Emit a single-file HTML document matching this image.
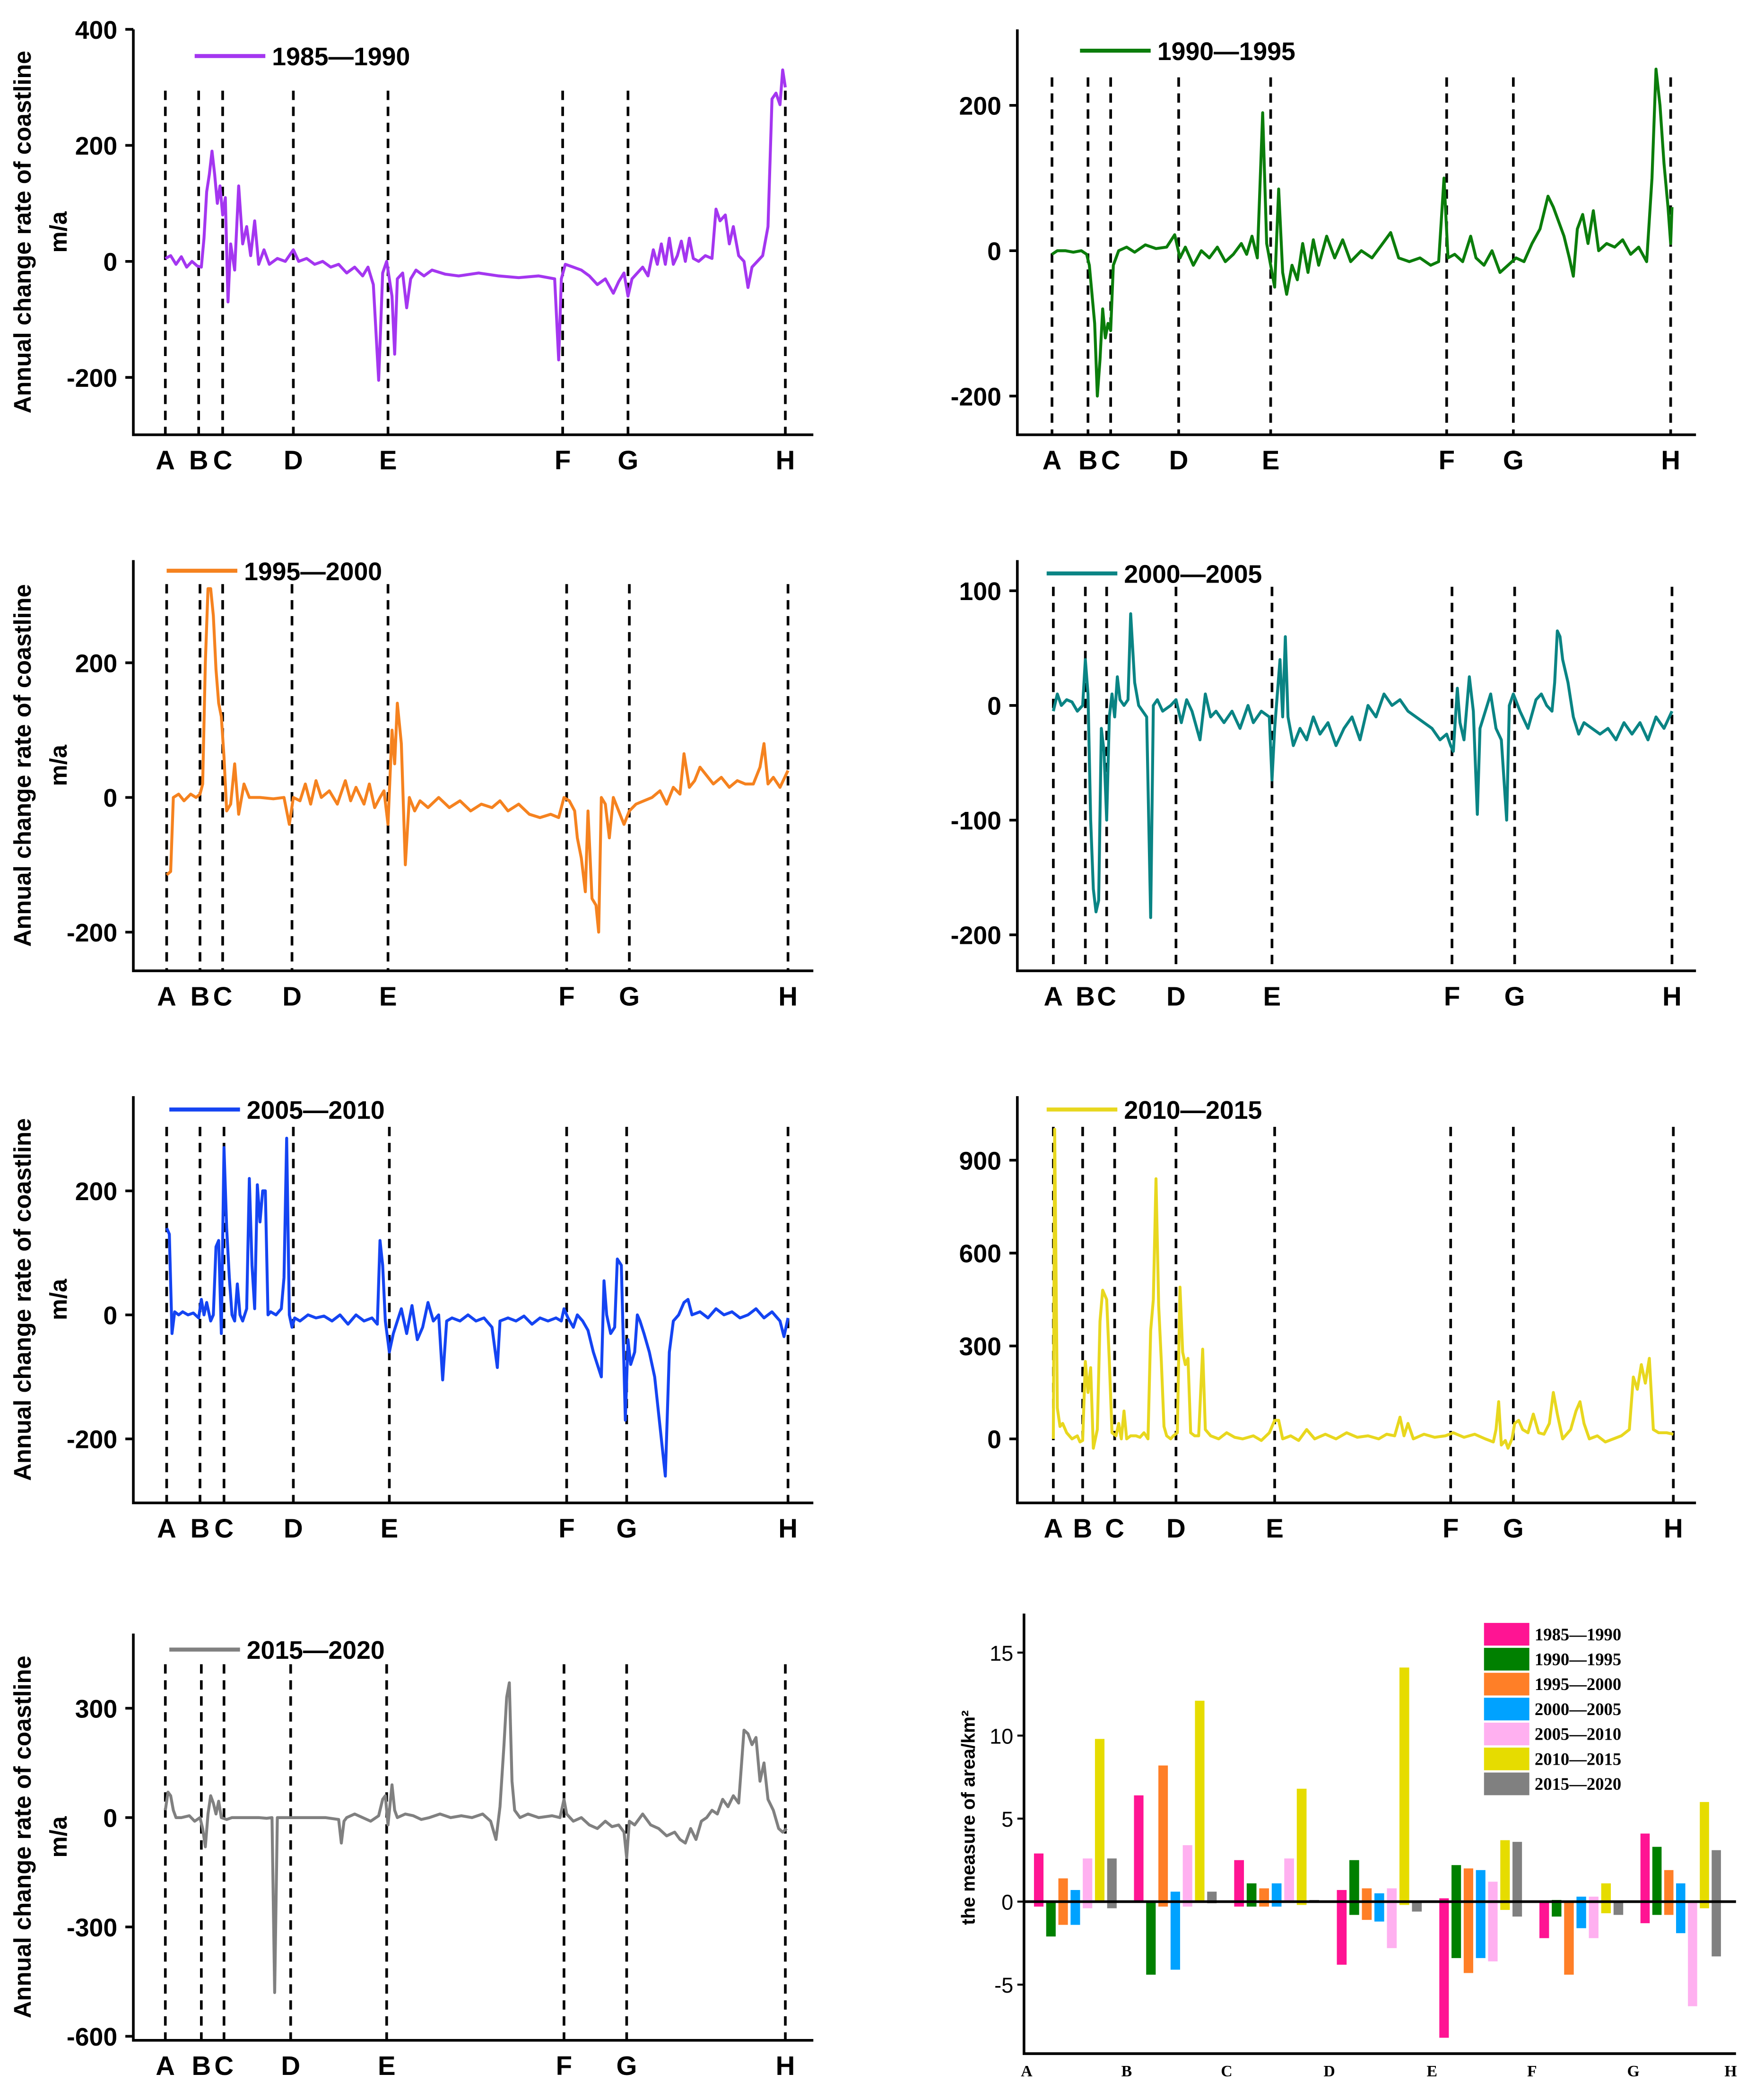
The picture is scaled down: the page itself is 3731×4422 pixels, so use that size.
<!DOCTYPE html>
<html>
<head>
<meta charset="utf-8">
<style>
html,body{margin:0;padding:0;background:#fff;}
svg{display:block;font-family:"Liberation Sans",sans-serif;}
</style>
</head>
<body>
<svg id="fig" xmlns="http://www.w3.org/2000/svg" width="3731" height="4422" viewBox="0 0 1323 1568">
<rect x="0" y="0" width="1323" height="1568" fill="#fff"/>
</svg>
<script>
// ---------- data ----------
const letters = ["A","B","C","D","E","F","G","H"];
const period1 = "1985—1990", period2 = "1990—1995", period3 = "1995—2000", period4 = "2000—2005";
const period5 = "2005—2010", period6 = "2010—2015", period7 = "2015—2020";
const series1985 = [[0,5],[4,10],[8,-5],[12,8],[16,-10],[20,0],[24,-8],[27,-10],[29,40],[31,120],[33,150],[35,190],[37,150],[39,100],[41,130],[43,80],[45,110],[47,-70],[49,30],[52,-15],[55,130],[58,30],[61,60],[64,10],[67,70],[70,-5],[74,20],[78,-5],[84,5],[90,0],[96,20],[100,0],[106,5],[112,-5],[118,0],[124,-10],[130,-5],[136,-20],[142,-10],[148,-25],[152,-10],[156,-40],[160,-205],[163,-20],[166,0],[168,-30],[170,-60],[172,-160],[174,-30],[178,-20],[181,-80],[184,-30],[188,-15],[194,-25],[200,-15],[210,-22],[220,-25],[235,-20],[250,-25],[265,-28],[280,-25],[292,-30],[295,-170],[297,-30],[300,-5],[306,-10],[312,-15],[318,-25],[324,-40],[330,-30],[336,-55],[340,-35],[344,-20],[347,-60],[350,-30],[354,-20],[358,-10],[362,-25],[366,20],[369,-5],[372,30],[375,-5],[378,40],[381,-5],[384,10],[387,35],[390,0],[393,40],[396,5],[400,0],[405,10],[410,5],[413,90],[416,70],[420,80],[423,30],[426,60],[430,10],[434,0],[437,-45],[440,-10],[444,0],[448,10],[452,60],[455,280],[458,290],[461,270],[463,330],[465,300]];
const series1990 = [[0,-5],[4,0],[10,0],[16,-2],[22,0],[26,-5],[28,-20],[30,-60],[32,-100],[34,-200],[36,-150],[38,-80],[40,-120],[42,-100],[44,-110],[46,-20],[50,0],[56,5],[62,-2],[70,8],[78,3],[86,5],[92,22],[96,-10],[100,5],[106,-20],[112,0],[118,-10],[124,5],[130,-15],[136,-5],[142,10],[146,-5],[150,20],[154,-10],[158,190],[161,10],[164,-20],[167,-50],[170,85],[173,-30],[176,-60],[180,-20],[184,-40],[188,10],[192,-30],[196,15],[200,-20],[206,20],[212,-10],[218,15],[224,-15],[232,0],[240,-10],[248,10],[254,25],[260,-10],[268,-15],[276,-10],[284,-20],[290,-15],[294,100],[297,-10],[302,-5],[308,-15],[314,20],[318,-10],[324,-20],[330,0],[336,-30],[342,-20],[348,-10],[354,-15],[360,10],[366,30],[372,75],[376,60],[380,40],[384,20],[388,-10],[391,-35],[394,30],[398,50],[402,10],[406,55],[410,0],[416,10],[422,5],[428,15],[434,-5],[440,5],[446,-15],[450,100],[453,250],[456,200],[459,120],[462,60],[464,10],[465,60]];
const series1995 = [[0,-115],[3,-110],[5,0],[9,5],[13,-5],[18,5],[22,0],[25,5],[27,20],[29,200],[31,310],[33,310],[35,270],[37,190],[39,140],[41,120],[43,60],[45,-20],[48,-10],[51,50],[54,-25],[58,20],[62,0],[70,0],[80,-2],[88,0],[92,-40],[95,0],[100,-5],[104,20],[108,-10],[112,25],[116,0],[122,10],[128,-10],[134,25],[138,-5],[142,15],[148,-10],[152,20],[156,-15],[160,0],[163,10],[166,-40],[169,100],[171,50],[173,140],[176,80],[179,-100],[182,0],[186,-20],[190,-5],[196,-15],[204,0],[212,-15],[220,-5],[228,-20],[236,-10],[244,-15],[250,-5],[256,-20],[264,-10],[272,-25],[280,-30],[288,-25],[294,-30],[298,0],[302,-5],[306,-20],[308,-60],[311,-90],[314,-140],[316,-20],[319,-150],[322,-160],[324,-200],[326,0],[329,-10],[332,-60],[335,0],[339,-20],[343,-40],[347,-20],[352,-10],[358,-5],[364,0],[370,10],[375,-10],[380,15],[385,5],[388,65],[392,15],[396,25],[400,45],[404,35],[410,20],[416,30],[422,15],[428,25],[434,20],[440,20],[445,45],[448,80],[451,20],[455,30],[460,15],[466,40]];
const series2000 = [[0,-5],[3,10],[6,0],[10,5],[14,3],[18,-5],[22,0],[24,40],[26,10],[28,-100],[30,-160],[32,-180],[34,-170],[36,-20],[38,-40],[40,-100],[42,-10],[44,10],[46,-10],[48,25],[50,5],[53,0],[56,5],[58,80],[61,20],[64,0],[67,-5],[70,-10],[73,-185],[75,0],[78,5],[82,-5],[88,0],[92,5],[96,-15],[100,5],[104,-5],[110,-30],[114,10],[118,-10],[122,-5],[128,-15],[134,-5],[140,-20],[146,0],[150,-15],[156,-5],[162,-10],[164,-65],[166,-20],[170,40],[172,-10],[174,60],[176,-10],[180,-35],[185,-20],[190,-30],[195,-10],[200,-25],[206,-15],[212,-35],[218,-20],[224,-10],[230,-30],[236,0],[242,-10],[248,10],[254,0],[260,5],[266,-5],[272,-10],[278,-15],[284,-20],[290,-30],[295,-25],[298,-35],[300,-40],[303,15],[305,-15],[308,-30],[312,25],[315,-5],[318,-95],[320,-20],[324,-5],[328,10],[332,-20],[336,-30],[340,-100],[342,0],[345,10],[350,-5],[356,-20],[362,5],[366,10],[370,0],[374,-5],[376,20],[378,65],[380,60],[382,40],[386,20],[390,-10],[394,-25],[398,-15],[404,-20],[410,-25],[416,-20],[422,-30],[428,-15],[434,-25],[440,-15],[446,-30],[452,-10],[458,-20],[464,-5]];
const series2005 = [[0,140],[2,130],[4,-30],[6,5],[9,0],[12,5],[16,0],[20,3],[24,-5],[26,25],[28,0],[30,20],[33,-10],[35,0],[37,110],[39,120],[41,-30],[43,270],[45,140],[47,60],[49,0],[51,-10],[53,50],[55,0],[57,-10],[60,10],[62,220],[64,80],[66,10],[68,210],[70,150],[72,200],[74,200],[76,0],[78,5],[82,0],[86,10],[88,60],[90,285],[92,0],[94,-20],[96,-5],[100,-10],[106,0],[112,-5],[118,-2],[124,-10],[130,0],[136,-15],[142,0],[148,-10],[154,-5],[158,-15],[160,120],[162,80],[164,-10],[167,-60],[170,-30],[173,-10],[176,10],[180,-30],[184,15],[188,-40],[192,-20],[196,20],[200,-10],[204,0],[207,-105],[210,-10],[214,-5],[220,-10],[226,0],[232,-10],[238,-5],[244,-20],[248,-85],[250,-10],[256,-5],[262,-10],[268,-2],[274,-15],[280,-5],[286,-10],[292,-5],[296,-10],[298,10],[301,-5],[305,-20],[308,0],[312,-10],[316,-25],[320,-60],[323,-80],[326,-100],[328,55],[330,0],[333,-30],[336,-20],[338,90],[341,80],[344,-170],[346,-40],[348,-80],[351,-60],[353,0],[355,-10],[358,-30],[362,-60],[366,-100],[370,-180],[374,-260],[377,-60],[380,-10],[384,0],[388,20],[391,25],[394,0],[400,5],[406,-5],[412,10],[418,0],[424,5],[430,-5],[436,0],[442,10],[448,-5],[454,5],[460,-10],[463,-35],[466,-5]];
const series2010 = [[0,0],[1,1000],[3,100],[5,40],[7,50],[10,20],[14,0],[18,10],[20,-10],[22,-5],[24,250],[26,150],[28,230],[30,-30],[33,30],[35,380],[37,480],[40,450],[42,250],[44,20],[47,10],[49,50],[51,0],[53,90],[55,0],[58,10],[62,10],[65,5],[68,20],[71,0],[73,350],[75,450],[77,840],[79,430],[81,250],[83,40],[85,10],[88,0],[90,10],[93,20],[95,490],[97,280],[99,240],[101,260],[103,20],[106,10],[109,10],[112,290],[114,30],[118,10],[124,0],[130,20],[136,5],[142,0],[150,10],[156,-5],[162,20],[166,60],[169,60],[172,0],[178,10],[184,-5],[190,30],[196,0],[204,15],[212,0],[220,20],[228,5],[236,10],[244,0],[250,15],[256,10],[260,70],[263,10],[266,50],[270,0],[278,15],[286,5],[294,10],[300,20],[308,5],[316,15],[324,0],[330,-10],[332,30],[334,120],[336,-20],[339,-5],[341,-30],[344,0],[346,50],[349,60],[352,30],[356,20],[360,80],[364,20],[368,15],[372,50],[375,150],[378,80],[382,0],[388,30],[392,90],[395,120],[398,50],[402,0],[408,10],[414,-10],[420,0],[426,10],[432,30],[435,200],[438,160],[441,240],[444,180],[447,260],[450,30],[454,20],[460,20],[465,15]];
const series2015 = [[0,20],[2,70],[4,60],[6,20],[8,0],[12,0],[18,5],[22,-10],[26,0],[28,-30],[30,-80],[32,10],[34,60],[36,40],[38,10],[40,45],[42,0],[46,-5],[50,0],[56,0],[62,0],[70,0],[76,-2],[80,0],[82,-480],[84,0],[88,0],[94,0],[100,0],[110,0],[120,0],[130,-5],[132,-70],[134,-10],[136,0],[142,10],[148,0],[154,-10],[160,5],[163,50],[165,60],[167,-20],[170,90],[172,20],[174,0],[180,10],[186,5],[192,-5],[198,0],[206,10],[214,0],[222,5],[230,0],[238,10],[244,-10],[248,-60],[251,30],[254,200],[256,330],[258,370],[260,100],[262,20],[266,0],[272,10],[280,0],[290,5],[296,0],[299,50],[301,10],[306,-10],[312,0],[318,-20],[324,-30],[330,-10],[335,-25],[340,-20],[344,-40],[346,-110],[348,-10],[352,-20],[358,10],[364,-20],[370,-30],[376,-50],[382,-40],[386,-60],[390,-70],[394,-30],[398,-60],[402,-10],[406,0],[410,20],[414,10],[418,50],[422,30],[426,60],[430,40],[434,240],[437,230],[440,200],[443,220],[446,100],[449,150],[452,50],[456,20],[460,-30],[463,-40],[466,-30]];
const ticks1 = [400,200,0,-200], ticks2 = [200,0,-200], ticks3 = [200,0,-200], ticks4 = [100,0,-100,-200];
const ticks5 = [200,0,-200], ticks6 = [900,600,300,0], ticks7 = [300,0,-300,-600];
// bar chart data (area, km²): positive (accretion) and negative (erosion) per segment A-B ... G-H
const barPeriods = ["1985—1990","1990—1995","1995—2000","2000—2005","2005—2010","2010—2015","2015—2020"];
const pos1985 = [2.9,6.4,2.5,0.7,0.2,0,4.1], neg1985 = [-0.3,0,-0.3,-3.8,-8.2,-2.2,-1.3];
const pos1990 = [0,0,1.1,2.5,2.2,0.1,3.3], neg1990 = [-2.1,-4.4,-0.3,-0.8,-3.4,-0.9,-0.8];
const pos1995 = [1.4,8.2,0.8,0.8,2.0,0,1.9], neg1995 = [-1.4,-0.3,-0.3,-1.1,-4.3,-4.4,-0.8];
const pos2000 = [0.7,0.6,1.1,0.5,1.9,0.3,1.1], neg2000 = [-1.4,-4.1,-0.3,-1.2,-3.4,-1.6,-1.9];
const pos2005 = [2.6,3.4,2.6,0.8,1.2,0.3,0], neg2005 = [-0.4,-0.3,0,-2.8,-3.6,-2.2,-6.3];
const pos2010 = [9.8,12.1,6.8,14.1,3.7,1.1,6.0], neg2010 = [0,0,-0.2,-0.2,-0.5,-0.7,-0.4];
const pos2015 = [2.6,0.6,0.1,0,3.6,0,3.1], neg2015 = [-0.4,-0.1,0,-0.6,-0.9,-0.8,-3.3];
const barTicks = [15,10,5,0,-5];

// ---------- drawing ----------
const NS = "http://www.w3.org/2000/svg";
const svg = document.getElementById("fig");
function mk(tag, attrs, parent){
  const e = document.createElementNS(NS, tag);
  for (const k in attrs) e.setAttribute(k, attrs[k]);
  (parent||svg).appendChild(e);
  return e;
}
const FONT = "'Liberation Sans', sans-serif";

const panels = [
 {data:series1985, color:"#a436f0", label:period1, ticks:ticks1, left:100,right:610,top:22,bottom:326, v0:0,p0:196,v1:200,p1:109, lx:[124,149,167,220,291,422,471,589], dashTop:68, leg:[146,42], ylab:true},
 {data:series1990, color:"#0b7d0b", label:period2, ticks:ticks2, left:763,right:1272,top:22,bottom:326, v0:0,p0:188,v1:200,p1:79, lx:[789,816,833,884,953,1085,1135,1253], dashTop:58, leg:[810,38], ylab:false},
 {data:series1995, color:"#f5821f", label:period3, ticks:ticks3, left:100,right:610,top:420,bottom:728, v0:0,p0:598,v1:200,p1:497, lx:[125,150,167,219,291,425,472,591], dashTop:438, leg:[125,428], ylab:true},
 {data:series2000, color:"#0a8484", label:period4, ticks:ticks4, left:763,right:1272,top:420,bottom:728, v0:0,p0:529,v1:100,p1:443, lx:[790,814,830,882,954,1089,1136,1254], dashTop:440, leg:[785,430], ylab:false},
 {data:series2005, color:"#1444f2", label:period5, ticks:ticks5, left:100,right:610,top:822,bottom:1127, v0:0,p0:986,v1:200,p1:893, lx:[125,150,168,220,292,425,470,591], dashTop:845, leg:[127,832], ylab:true},
 {data:series2010, color:"#e8d71e", label:period6, ticks:ticks6, left:763,right:1272,top:822,bottom:1127, v0:0,p0:1079,v1:900,p1:870, lx:[790,812,836,882,956,1088,1135,1255], dashTop:845, leg:[785,832], ylab:false},
 {data:series2015, color:"#808080", label:period7, ticks:ticks7, left:100,right:610,top:1225,bottom:1530, v0:0,p0:1363,v1:300,p1:1281, lx:[124,151,168,218,290,423,470,589], dashTop:1248, leg:[127,1237], ylab:true}
];

panels.forEach((P, pi) => {
  const g = mk("g", {});
  
  
  const yS = v => P.p0 + (v - P.v0) * (P.p1 - P.p0) / (P.v1 - P.v0);
  const xS = d => P.lx[0] + d; // distance from A
  // dashed section lines
  P.lx.forEach((x, i) => {
    const l = mk("line", {x1:x, x2:x, y1:P.dashTop, y2:P.bottom, stroke:"#000","stroke-width":2,"stroke-dasharray":"7,5"}, g);
    
    
    const t = mk("text", {x:x, y:P.bottom+26, "text-anchor":"middle","font-size":20,"font-weight":"bold","font-family":FONT}, g);
    t.textContent = letters[i];
    
    
  });
  // series line
  const d = P.data.map((p, i) => (i ? "L" : "M") + xS(p[0]).toFixed(1) + "," + yS(p[1]).toFixed(1)).join("");
  const path = mk("path", {d:d, fill:"none", stroke:P.color, "stroke-width":2.2, "stroke-linejoin":"round"}, g);
  
  
  // axes
  const ax = mk("path", {d:`M${P.left},${P.top}V${P.bottom}H${P.right}`, fill:"none", stroke:"#000", "stroke-width":2}, g);
  
  
  P.ticks.forEach(v => {
    const y = yS(v);
    mk("line", {x1:P.left-6, x2:P.left, y1:y, y2:y, stroke:"#000","stroke-width":2}, g);
    const t = mk("text", {x:P.left-12, y:y+7, "text-anchor":"end","font-size":19,"font-weight":"bold","font-family":FONT}, g);
    t.textContent = v;
    
    
  });
  // legend
  const lg = mk("g", {}, g);
  
  
  mk("line", {x1:P.leg[0], x2:P.leg[0]+53, y1:P.leg[1], y2:P.leg[1], stroke:P.color, "stroke-width":3}, lg);
  const lt = mk("text", {x:P.leg[0]+58, y:P.leg[1]+7, "font-size":19, "font-weight":"bold", "font-family":FONT}, lg);
  lt.textContent = P.label;
  // y label
  if (P.ylab) {
    const cy = (P.top + P.bottom) / 2;
    const t1 = mk("text", {x:0, y:0, transform:`translate(23,${cy}) rotate(-90)`, "text-anchor":"middle","font-size":18,"font-weight":"bold","font-family":FONT}, g);
    t1.textContent = "Annual change rate of coastline";
    
    
    const t2 = mk("text", {x:0, y:0, transform:`translate(50,${cy}) rotate(-90)`, "text-anchor":"middle","font-size":18,"font-weight":"bold","font-family":FONT}, g);
    t2.textContent = "m/a";
    
    
  }
});

// ---------- bar chart ----------
(function(){
  const g = mk("g", {});
  
  
  const L = 768, R = 1302, T = 1210, B = 1540;
  const yS = v => 1426 - v * 12.45;
  const catX = [770,845,920,997,1074,1149,1225,1298];
  const colors = ["#ff1493","#008000","#ff7f27","#00a2ff","#ffb0f0","#e6dc00","#808080"];
  const posAll = [pos1985,pos1990,pos1995,pos2000,pos2005,pos2010,pos2015];
  const negAll = [neg1985,neg1990,neg1995,neg2000,neg2005,neg2010,neg2015];
  for (let gi = 0; gi < 7; gi++) {
    const span = catX[gi+1] - catX[gi];
    const step = span / 8.2;
    for (let s = 0; s < 7; s++) {
      const x = catX[gi] + step * (s + 0.6);
      const w = step * 0.78;
      const pv = posAll[s][gi], nv = negAll[s][gi];
      if (pv > 0) {
        const r = mk("rect", {x:x, y:yS(pv), width:w, height:yS(0)-yS(pv), fill:colors[s]}, g);
        
        
      }
      if (nv < 0) {
        const r = mk("rect", {x:x, y:yS(0), width:w, height:yS(nv)-yS(0), fill:colors[s]}, g);
        
        
      }
    }
  }
  mk("line", {x1:L, x2:R, y1:yS(0), y2:yS(0), stroke:"#000", "stroke-width":2}, g);
  const ax = mk("path", {d:`M${L},${T}V${B}H${R}`, fill:"none", stroke:"#000", "stroke-width":2}, g);
  
  
  barTicks.forEach(v => {
    const y = yS(v);
    mk("line", {x1:L-5, x2:L, y1:y, y2:y, stroke:"#000", "stroke-width":1.5}, g);
    const t = mk("text", {x:L-8, y:y+6, "text-anchor":"end", "font-size":16, "font-family":FONT}, g);
    t.textContent = v;
    
    
  });
  catX.forEach((x, i) => {
    const t = mk("text", {x:x, y:B+17, "text-anchor":"middle", "font-size":12, "font-weight":"bold", "font-family":"'Liberation Serif', serif"}, g);
    t.textContent = letters[i];
    
    
  });
  const yt = mk("text", {x:0, y:0, transform:"translate(731,1363) rotate(-90)", "text-anchor":"middle", "font-size":14, "font-weight":"bold", "font-family":FONT}, g);
  yt.textContent = "the measure of area/km²";
  
  
  barPeriods.forEach((p, i) => {
    const y = 1217 + i * 18.7;
    const lg = mk("g", {}, g);
    
    
    mk("rect", {x:1113, y:y, width:34, height:17, fill:colors[i]}, lg);
    const t = mk("text", {x:1151, y:y+13, "font-size":13, "font-weight":"bold", "font-family":"'Liberation Serif', serif"}, lg);
    t.textContent = p;
  });
})();
</script>
</body>
</html>
